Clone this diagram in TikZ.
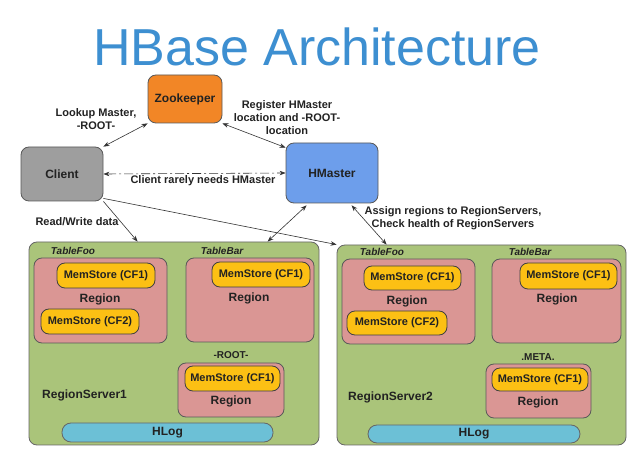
\documentclass[tikz,border=0pt]{standalone}
\usepackage{fontspec}
\setmainfont{Liberation Sans}
\usetikzlibrary{arrows.meta,calc}
\definecolor{titleblue}{RGB}{61,143,209}
\definecolor{zkorange}{RGB}{242,134,38}
\definecolor{clgray}{RGB}{158,158,158}
\definecolor{hmblue}{RGB}{109,158,235}
\definecolor{rsgreen}{RGB}{170,196,122}
\definecolor{regpink}{RGB}{218,150,148}
\definecolor{msgold}{RGB}{252,192,20}
\definecolor{hlcyan}{RGB}{108,192,214}
\definecolor{txt}{RGB}{34,34,34}
\tikzset{
  bigbox/.style={draw=black!65, line width=0.8pt, rounded corners=8pt, inner sep=0pt, font=\fontsize{12}{14}\selectfont\bfseries, text=txt},
  rsbox/.style={draw=black!60, line width=0.8pt, rounded corners=8pt, fill=rsgreen, inner sep=0pt},
  regbox/.style={draw=black!65, line width=0.8pt, rounded corners=8pt, fill=regpink, inner sep=0pt},
  msbox/.style={draw=black!75, line width=0.8pt, rounded corners=8pt, fill=msgold, inner sep=0pt, font=\fontsize{11}{13}\selectfont\bfseries, text=txt},
  hlbox/.style={draw=black!60, line width=0.8pt, rounded corners=9pt, fill=hlcyan, inner sep=0pt, font=\fontsize{12}{14}\selectfont\bfseries, text=txt},
  regtext/.style={font=\fontsize{12}{14}\selectfont\bfseries, text=txt, inner sep=0pt},
  tbltext/.style={font=\fontsize{10}{12}\selectfont\bfseries\itshape, text=txt, inner sep=0pt},
  smalltext/.style={font=\fontsize{10}{12}\selectfont\bfseries, text=txt, inner sep=0pt},
  lbl/.style={font=\fontsize{11}{13}\selectfont\bfseries, text=txt, align=center, inner sep=0pt},
  conn/.style={draw=black!80, line width=0.6pt, {Stealth[length=6pt,width=4.5pt]}-{Stealth[length=6pt,width=4.5pt]}},
  oneway/.style={draw=black!80, line width=0.6pt, -{Stealth[length=6pt,width=4.5pt]}}
}
\begin{document}
\begin{tikzpicture}[x=1pt,y=-1pt]
\useasboundingbox[fill=white] (0,0) rectangle (633,449);
% title
\node[font=\fontsize{52}{54}\selectfont, text=titleblue, inner sep=0pt] (title) at (317,46.5) {HBase Architecture};
% main nodes
\node[bigbox, fill=zkorange, minimum width=74pt, minimum height=48pt] (zk) at (185,99) {Zookeeper};
\node[bigbox, fill=clgray, minimum width=82pt, minimum height=54pt] (cl) at (62,174) {Client};
\node[bigbox, fill=hmblue, minimum width=92pt, minimum height=60pt] (hm) at (332,173) {HMaster};
% region servers
\node[rsbox, minimum width=290pt, minimum height=203pt] (rs1) at (174,343.5) {};
\node[rsbox, minimum width=289pt, minimum height=200pt] (rs2) at (481.5,345) {};
% RS1 contents
\node[tbltext] (t1a) at (73,251) {TableFoo};
\node[tbltext] (t1b) at (222,251) {TableBar};
\node[regbox, minimum width=133pt, minimum height=85pt] (r1a) at (100.5,300.5) {};
\node[msbox, minimum width=98pt, minimum height=25pt] (m1a1) at (106,275.5) {MemStore (CF1)};
\node[regtext] (g1a) at (100,299) {Region};
\node[msbox, minimum width=98pt, minimum height=25pt] (m1a2) at (90,321.5) {MemStore (CF2)};
\node[regbox, minimum width=128pt, minimum height=84pt] (r1b) at (250,300) {};
\node[msbox, minimum width=98pt, minimum height=25pt] (m1b) at (261,274.5) {MemStore (CF1)};
\node[regtext] (g1b) at (249,298) {Region};
\node[smalltext] (root) at (231,355) {-ROOT-};
\node[regbox, minimum width=106pt, minimum height=54pt] (r1c) at (231,390) {};
\node[msbox, minimum width=95pt, minimum height=25pt] (m1c) at (232.5,378.5) {MemStore (CF1)};
\node[regtext] (g1c) at (231,401) {Region};
\node[regtext, anchor=west] (rsl1) at (42,395) {RegionServer1};
\node[hlbox, minimum width=211pt, minimum height=19pt] (hl1) at (167.5,432.5) {HLog};
% RS2 contents
\node[tbltext] (t2a) at (382,252) {TableFoo};
\node[tbltext] (t2b) at (530,252) {TableBar};
\node[regbox, minimum width=133pt, minimum height=85pt] (r2a) at (408.5,301.5) {};
\node[msbox, minimum width=97pt, minimum height=24pt] (m2a1) at (412.5,278) {MemStore (CF1)};
\node[regtext] (g2a) at (407,301) {Region};
\node[msbox, minimum width=100pt, minimum height=24pt] (m2a2) at (397,323) {MemStore (CF2)};
\node[regbox, minimum width=129pt, minimum height=84pt] (r2b) at (556.5,301) {};
\node[msbox, minimum width=97pt, minimum height=26pt] (m2b) at (568.5,276) {MemStore (CF1)};
\node[regtext] (g2b) at (557,299) {Region};
\node[smalltext] (meta) at (538,357) {.META.};
\node[regbox, minimum width=105pt, minimum height=54pt] (r2c) at (538.5,391) {};
\node[msbox, minimum width=96pt, minimum height=23pt] (m2c) at (540,379.5) {MemStore (CF1)};
\node[regtext] (g2c) at (538,402) {Region};
\node[regtext, anchor=west] (rsl2) at (348,397) {RegionServer2};
\node[hlbox, minimum width=212pt, minimum height=18pt] (hl2) at (474,434) {HLog};
% connectors
\draw[conn] (cl.north east) -- (zk.south west);
\draw[conn] (zk.south east) -- ($(hm.north west)+(0,5)$);
\draw[conn, dash pattern=on 9pt off 3pt on 2pt off 3pt] (cl.east) -- (hm.west);
\draw[oneway] (cl.south east) -- ($(rs1.north west)+(109,0)$);
\draw[oneway] ($(cl.south east)+(0,-3)$) -- (rs2.north west);
\draw[conn] ($(hm.south west)+(21,2)$) -- ($(rs1.north west)+(239,0)$);
\draw[conn] ($(hm.south west)+(66,2)$) -- ($(rs2.north west)+(50,0)$);
% labels
\node[lbl] (l1) at (96,119) {Lookup Master,\\-ROOT-};
\node[lbl] (l2) at (287,118) {Register HMaster\\location and -ROOT-\\location};
\node[lbl] (l3) at (203,181) {Client rarely needs HMaster};
\node[lbl] (l4) at (77,222) {Read/Write data};
\node[lbl] (l5) at (453,218) {Assign regions to RegionServers,\\Check health of RegionServers};
\end{tikzpicture}
\end{document}
